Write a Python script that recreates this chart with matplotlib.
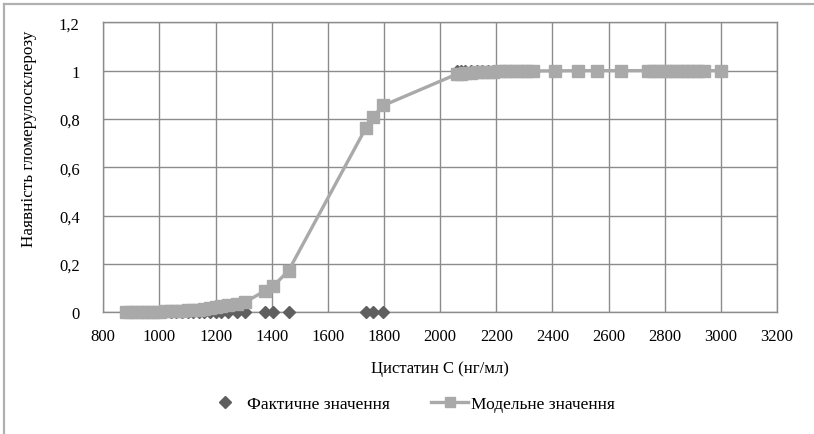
import matplotlib
matplotlib.use("Agg")
import matplotlib.pyplot as plt
from matplotlib.lines import Line2D
from matplotlib.ticker import FuncFormatter

# Cystatin C concentration (ng/ml) per patient
cystatin = [880, 900, 920, 940, 960, 980, 1000, 1020, 1040, 1060, 1080, 1100,
            1120, 1140, 1160, 1180, 1200, 1220, 1245, 1275, 1305,
            1375, 1405, 1460, 1735, 1760, 1798,
            2060, 2075, 2090, 2110, 2130, 2150, 2170, 2190, 2210, 2230, 2250,
            2270, 2290, 2310, 2330,
            2410, 2490, 2560, 2645,
            2740, 2760, 2780, 2800, 2820, 2840, 2860, 2880, 2900, 2920, 2940,
            3000]

# Observed presence of glomerulosclerosis (0 / 1)
actual = [0] * 27 + [1] * 31

# Logistic model prediction
model = [0.001, 0.001, 0.001, 0.002, 0.002, 0.002, 0.003, 0.004, 0.004, 0.005,
         0.006, 0.008, 0.009, 0.011, 0.014, 0.017, 0.020, 0.024, 0.029, 0.035,
         0.042,
         0.088, 0.108, 0.172, 0.762, 0.808, 0.856,
         0.986, 0.988, 0.990, 0.992, 0.993, 0.994, 0.995, 0.996, 0.997, 0.997,
         0.998, 0.998, 0.998, 0.999, 0.999,
         0.999, 1.000, 1.000, 1.000,
         1.000, 1.000, 1.000, 1.000, 1.000, 1.000, 1.000, 1.000, 1.000, 1.000,
         1.000, 1.000]

x_ticks = list(range(800, 3201, 200))
y_ticks = [0, 0.2, 0.4, 0.6, 0.8, 1.0, 1.2]

serif = ["Liberation Serif", "DejaVu Serif"]
plt.rcParams["font.family"] = serif

fig = plt.figure(figsize=(8.14, 4.35), dpi=100)
ax = fig.add_axes([0.1269, 0.2798, 0.9545 - 0.1269, 0.9464 - 0.2798])

grid_c = "#8c8c8c"
ax.set_xlim(800, 3200)
ax.set_ylim(0, 1.2)
ax.set_xticks(x_ticks)
ax.set_yticks(y_ticks)
ax.grid(True, color=grid_c, linewidth=1.0)
ax.set_axisbelow(True)
for s in ax.spines.values():
    s.set_color(grid_c)
    s.set_linewidth(1.0)
ax.tick_params(length=0, labelsize=12, pad=11, colors="black")
ax.tick_params(axis="y", pad=17)


def comma_fmt(v, pos):
    if abs(v - round(v)) < 1e-9:
        return str(int(round(v)))
    return f"{v:.1f}".replace(".", ",")


ax.yaxis.set_major_formatter(FuncFormatter(comma_fmt))

ax.plot(cystatin, actual, linestyle="none", marker="D", markersize=6.5,
        color="#5f5f5f", clip_on=False, zorder=3)
ax.plot(cystatin, model, linestyle="-", linewidth=2.4, marker="s",
        markersize=8.5, color="#a9a9a9", clip_on=False, zorder=4)

ax.set_xlabel("Цистатин С (нг/мл)", fontsize=12, labelpad=12)
ax.set_ylabel("Наявність гломерулосклерозу", fontsize=12.3)
ax.yaxis.set_label_coords(-0.098, 0.60)

handles = [
    Line2D([], [], linestyle="none", marker="D", markersize=6, color="#5f5f5f"),
    Line2D([], [], linestyle="-", linewidth=2.4, marker="s", markersize=7,
           color="#a9a9a9"),
]
fig.legend(handles, ["Фактичне значення", "Модельне значення"],
           loc="center", bbox_to_anchor=(0.505, 0.068), ncol=2, frameon=False,
           fontsize=12.5, handlelength=2.1, columnspacing=2.4,
           handletextpad=0.2)

# outer chart frame (top and left edges)
fig.add_artist(Line2D([0.005, 1.0], [1 - 5 / 435, 1 - 5 / 435],
                      transform=fig.transFigure, color="#b0b0b0", linewidth=1.6))
fig.add_artist(Line2D([0.005, 0.005], [0.0, 1 - 5 / 435],
                      transform=fig.transFigure, color="#b0b0b0", linewidth=1.6))

fig.savefig("out.png", dpi=100)
